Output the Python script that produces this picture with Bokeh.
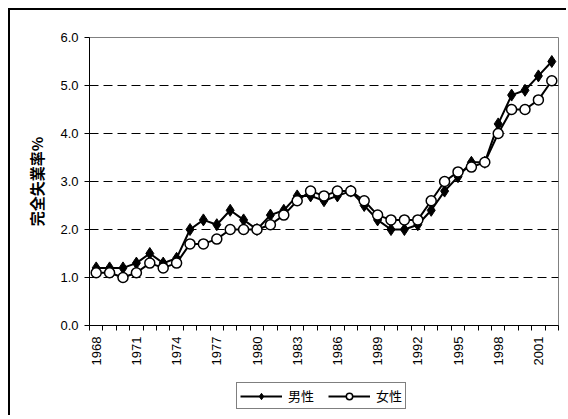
import math
from bokeh.plotting import figure
from bokeh.layouts import column
from bokeh.models import FixedTicker, Legend, LegendItem, Range1d
from bokeh.embed import file_html
from bokeh.resources import INLINE

years = list(range(1968, 2003))
male = [1.2, 1.2, 1.2, 1.3, 1.5, 1.3, 1.4, 2.0, 2.2, 2.1, 2.4, 2.2, 2.0, 2.3, 2.4,
        2.7, 2.7, 2.6, 2.7, 2.8, 2.5, 2.2, 2.0, 2.0, 2.1, 2.4, 2.8, 3.1, 3.4, 3.4,
        4.2, 4.8, 4.9, 5.2, 5.5]
female = [1.1, 1.1, 1.0, 1.1, 1.3, 1.2, 1.3, 1.7, 1.7, 1.8, 2.0, 2.0, 2.0, 2.1, 2.3,
          2.6, 2.8, 2.7, 2.8, 2.8, 2.6, 2.3, 2.2, 2.2, 2.2, 2.6, 3.0, 3.2, 3.3, 3.4,
          4.0, 4.5, 4.5, 4.7, 5.1]
y_ticks = [0, 1, 2, 3, 4, 5, 6]
y_tick_labels = ["0.0", "1.0", "2.0", "3.0", "4.0", "5.0", "6.0"]
label_years = list(range(1968, 2003, 3))
series_names = ["男性", "女性"]
y_title = "完全失業率%"

xs = list(range(len(years)))

p = figure(width=556, height=368, output_backend="svg", toolbar_location=None,
           x_range=Range1d(-0.5, len(years) - 0.5), y_range=Range1d(0, 6),
           min_border_left=79, min_border_right=8, min_border_top=27, min_border_bottom=53)
p.outline_line_color = "#808080"
p.outline_line_width = 1

# y axis
p.yaxis.ticker = FixedTicker(ticks=y_ticks)
p.yaxis.major_label_overrides = {t: l for t, l in zip(y_ticks, y_tick_labels)}
p.yaxis.major_tick_out = 5
p.yaxis.major_tick_in = 0
p.yaxis.minor_tick_line_color = None
p.yaxis.axis_line_color = "black"
p.yaxis.major_label_text_font = "Liberation Sans"
p.yaxis.major_label_text_font_size = "13px"
p.yaxis.major_label_text_color = "black"
p.yaxis.major_label_standoff = 6
p.yaxis.axis_label = y_title
p.yaxis.axis_label_text_font = "Noto Sans CJK JP"
p.yaxis.axis_label_text_font_style = "bold"
p.yaxis.axis_label_text_font_size = "15px"
p.yaxis.axis_label_text_color = "black"
p.yaxis.axis_label_standoff = 10

# x axis
label_pos = [years.index(y) for y in label_years]
boundaries = [i - 0.5 for i in range(len(years) + 1)]
p.xaxis.ticker = FixedTicker(ticks=label_pos, minor_ticks=boundaries)
p.xaxis.major_label_overrides = {i: str(years[i]) for i in label_pos}
p.xaxis.major_tick_line_color = None
p.xaxis.major_tick_out = 5
p.xaxis.major_tick_in = 0
p.xaxis.minor_tick_out = 5
p.xaxis.minor_tick_in = 0
p.xaxis.minor_tick_line_color = "black"
p.xaxis.axis_line_color = "black"
p.xaxis.major_label_orientation = math.pi / 2
p.xaxis.major_label_text_font = "Liberation Sans"
p.xaxis.major_label_text_font_size = "13px"
p.xaxis.major_label_text_color = "black"
p.xaxis.major_label_standoff = 6

# grid
p.xgrid.grid_line_color = None
p.ygrid.ticker = FixedTicker(ticks=[1, 2, 3, 4, 5])
p.ygrid.grid_line_color = "black"
p.ygrid.grid_line_dash = "9 5"
p.ygrid.grid_line_width = 1

male_line = dict(line_color="black", line_width=2)
male_mark = dict(marker="diamond", size=12, fill_color="black", line_color="black")
female_line = dict(line_color="black", line_width=2)
female_mark = dict(marker="circle", size=10, fill_color="white", line_color="black", line_width=1.5)

p.line(xs, male, **male_line)
p.scatter(xs, male, **male_mark)
p.line(xs, female, **female_line)
p.scatter(xs, female, **female_mark)

# legend strip below the chart (its own ranges keep the proxy series off-view)
lf = figure(width=556, height=37, output_backend="svg", toolbar_location=None,
            x_range=Range1d(-100, -99), y_range=Range1d(-100, -99),
            min_border_left=0, min_border_right=0, min_border_top=0, min_border_bottom=0)
lf.axis.visible = False
lf.grid.grid_line_color = None
lf.outline_line_color = None
d1 = lf.line(xs, male, **male_line)
d2 = lf.scatter(xs, male, **male_mark)
d3 = lf.line(xs, female, **female_line)
d4 = lf.scatter(xs, female, **female_mark)

legend = Legend(items=[LegendItem(label=series_names[0], renderers=[d1, d2]),
                       LegendItem(label=series_names[1], renderers=[d3, d4])],
                orientation="horizontal", location=(147, 6))
legend.label_text_font = "Noto Sans CJK JP"
legend.label_text_font_size = "13px"
legend.label_text_color = "black"
legend.border_line_color = "black"
legend.border_line_width = 1
legend.glyph_width = 42
legend.glyph_height = 16
legend.label_height = 14
legend.padding = 3
legend.spacing = 14
legend.label_standoff = 6
legend.margin = 0
lf.add_layout(legend)

root = column(p, lf, spacing=0,
              styles={"margin-left": "8px", "margin-top": "8px",
                      "border-left": "2px solid black", "border-top": "2px solid black"})

open("out.html", "w").write(file_html(root, INLINE))
